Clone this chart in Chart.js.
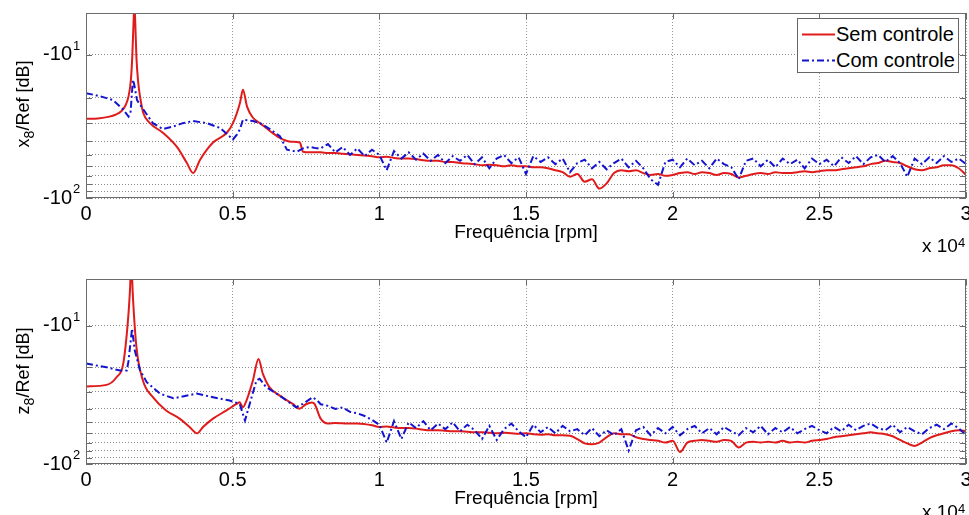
<!DOCTYPE html>
<html>
<head>
<meta charset="utf-8">
<script src="https://cdn.jsdelivr.net/npm/chart.js@4.4.1/dist/chart.umd.min.js"></script>
<style>
  body { margin:0; width:969px; height:515px; overflow:hidden; background:#fff; position:relative;
         font-family:"Liberation Sans", Arial, sans-serif; color:#000; }
  .plot { position:absolute; left:0; width:975px; }
  #topPlot { top:0; height:260px; }
  #botPlot { top:260px; height:262px; }
  .lbl { position:absolute; white-space:nowrap; }
  .ytitle { font-size:18px; transform:translate(-50%,-50%) rotate(-90deg); }
  .ytitle sub { font-size:14px; }
  .xtitle { font-size:19px; transform:translate(-50%,-50%); }
  .mult { font-size:19px; line-height:19px; }
  .mult sup { font-size:13px; position:relative; top:-3px; vertical-align:top; }
  #legend { position:absolute; left:797px; top:18px; width:160px; height:53px; border:1px solid #666; background:#fff; }
  .row { position:absolute; left:4px; height:24px; font-size:20px; line-height:24px; white-space:nowrap; }
  .row svg { position:absolute; left:0; top:11px; }
  .row span { position:absolute; left:34px; top:0; }
</style>
</head>
<body>
<div class="plot" id="topPlot"><canvas id="chartX"></canvas></div>
<div class="plot" id="botPlot"><canvas id="chartZ"></canvas></div>

<div class="lbl ytitle" style="left:25px; top:104px;">x<sub>8</sub>/Ref [dB]</div>
<div class="lbl ytitle" style="left:25px; top:371px;">z<sub>8</sub>/Ref [dB]</div>
<div class="lbl xtitle" style="left:526px; top:232px;">Frequência [rpm]</div>
<div class="lbl xtitle" style="left:526px; top:498px;">Frequência [rpm]</div>
<div class="lbl mult" style="left:922px; top:236px;">x 10<sup>4</sup></div>
<div class="lbl mult" style="left:922px; top:502px;">x 10<sup>4</sup></div>

<div id="legend">
  <div class="row" style="top:3px;">
    <svg width="33" height="3"><line x1="0" y1="1.5" x2="33" y2="1.5" stroke="#e01b1b" stroke-width="2"/></svg>
    <span>Sem controle</span>
  </div>
  <div class="row" style="top:29px;">
    <svg width="33" height="3"><line x1="0" y1="1.5" x2="33" y2="1.5" stroke="#1414d0" stroke-width="2" stroke-dasharray="7,3,2,3"/></svg>
    <span>Com controle</span>
  </div>
</div>

<script>
// eixo x (rpm) e rótulos
const xTickVals = [0, 5000, 10000, 15000, 20000, 25000, 30000];
const xTickLabels = ['0', '0.5', '1', '1.5', '2', '2.5', '3'];
// linhas de grade do eixo y (magnitude em dB, escala log invertida)
const yGridVals = [10, 20, 30, 40, 50, 60, 70, 80, 90, 100];
const yLabelVals = [10, 100];
const yLabelExp = ['1', '2'];

// parte baixa (picos), cada serie com suas frequencias
const x8SemLowF = [0, 400, 800, 1000, 1200, 1350, 1450, 1530, 1580, 1620, 1650, 1680, 1720, 1780, 1850, 1950, 2180, 2620, 3100, 3440, 3650, 3890, 4330, 4800, 5010, 5250, 5350, 5490, 5690, 5930, 6270, 6610, 7000, 7290, 7400, 7600, 7800];
const x8SemLowDb = [-28, -27.8, -27, -26.2, -24.8, -22.5, -19.5, -15, -10, -6, -4.5, -6, -10.5, -15.6, -20, -25.4, -30, -35, -44, -57, -67, -54, -41, -35, -30, -21.6, -17.5, -23, -27.5, -30, -34, -38, -40.5, -41, -47.5, -48, -48];
const x8ComLowF = [0, 500, 920, 1260, 1450, 1520, 1570, 1600, 1640, 1740, 1950, 2280, 2620, 2970, 3300, 3650, 4120, 4570, 5010, 5150, 5250, 5350, 5690, 5930, 6270, 6610, 6850, 7190, 7400, 7630, 7870];
const x8ComLowDb = [-18.5, -19.5, -20.7, -24, -27, -25, -18, -14.9, -16, -20.7, -24, -30, -33, -31.7, -30, -29, -30, -32.4, -39, -36, -33, -28.4, -29, -30, -33, -37, -46, -47.5, -45, -44, -45];
const z8SemLowF = [0, 700, 1040, 1270, 1430, 1500, 1530, 1570, 1600, 1720, 1940, 2280, 2730, 3190, 3530, 3790, 3990, 4330, 4790, 5130, 5240, 5350, 5470, 5690, 5880, 6030, 6250, 6590, 7050, 7270, 7500, 7700, 7790];
const z8SemLowDb = [-27.5, -26.8, -23.6, -18.8, -9.2, -5.5, -4, -4.5, -6.2, -14.3, -24.9, -32.9, -41, -47, -54, -60, -54, -47, -41, -36.8, -35.8, -38.9, -34.8, -24.9, -17.4, -22.3, -27.8, -31.9, -36.8, -39.9, -37, -36, -36.8];
const z8ComLowF = [0, 700, 1160, 1390, 1450, 1500, 1570, 1660, 1840, 2070, 2520, 2980, 3770, 4330, 4900, 5240, 5420, 5580, 5810, 5920, 6140, 6590, 7160, 7390, 7730, 7900];
const z8ComLowDb = [-18.8, -20, -21.1, -21.1, -18, -14.3, -10.5, -15, -21, -25.6, -31, -33.5, -31, -32.9, -34.8, -36.8, -48.5, -36.8, -24.9, -24.2, -27.8, -31.9, -38.9, -36.8, -32.9, -35];

// parte alta (ruido), grade comum de 8000 a 30000 rpm
const freqHi = [8000, 8250, 8500, 8750, 9000, 9250, 9500, 9750, 10000, 10250, 10500, 10750, 11000, 11250, 11500, 11750,
  12000, 12250, 12500, 12750, 13000, 13250, 13500, 13750, 14000, 14250, 14500, 14750, 15000, 15250, 15500, 15750,
  16000, 16250, 16500, 16750, 17000, 17250, 17500, 17750, 18000, 18250, 18500, 18750, 19000, 19250, 19500, 19750,
  20000, 20250, 20500, 20750, 21000, 21250, 21500, 21750, 22000, 22250, 22500, 22750, 23000, 23250, 23500, 23750,
  24000, 24250, 24500, 24750, 25000, 25250, 25500, 25750, 26000, 26250, 26500, 26750, 27000, 27250, 27500, 27750,
  28000, 28250, 28500, 28750, 29000, 29250, 29500, 29750, 30000];
const x8SemHiDb = [-48, -48.5, -48.5, -49, -49.5, -50, -50.5, -51, -52, -51.5, -52.5, -53, -53, -53.5, -54.5, -55,
  -55, -56, -56, -57, -57.5, -58, -59, -58.5, -59, -60, -59, -60, -60, -61, -61, -62,
  -64, -66, -71, -68, -77, -74, -86, -79, -67, -64, -65, -64, -67, -69, -68, -70,
  -69, -67, -66, -68, -66, -67, -69, -67, -68, -72, -70, -68, -67, -68, -66, -67,
  -67, -66, -65, -66, -65, -64, -64, -63, -62, -61, -60, -58, -57, -55, -56, -57,
  -60, -63, -64, -62, -61, -59, -59, -62, -69];
const x8ComHiDb = [-45, -42, -48, -44, -50, -45, -51, -46, -50, -64, -47, -53, -48, -54, -49, -55,
  -50, -57, -51, -55, -50, -58, -52, -62, -53, -50, -57, -52, -68, -51, -56, -52,
  -58, -53, -66, -57, -54, -62, -56, -63, -57, -53, -61, -55, -62, -74, -81, -56,
  -54, -61, -53, -59, -55, -62, -53, -58, -61, -74, -55, -53, -60, -54, -61, -53,
  -58, -54, -62, -53, -58, -54, -60, -52, -57, -51, -58, -52, -50, -56, -51, -57,
  -71, -53, -58, -52, -57, -51, -56, -53, -58];
const z8SemHiDb = [-47, -51, -50.5, -50.8, -51, -51, -51.5, -52.5, -54, -53.5, -54.5, -55, -55, -55.5, -56.5, -57,
  -57, -57.5, -58, -58, -58.5, -59, -59, -59.5, -60, -59.5, -60, -60.5, -60, -61, -61.5, -61,
  -62, -62, -62.5, -66, -71, -72, -70, -64, -60, -61, -61, -64, -66, -67, -68, -70,
  -68, -82, -70, -68, -67, -68, -69, -67, -68, -76, -70, -69, -70, -69, -70, -68,
  -70, -69, -70, -68, -67, -66, -64, -63, -62, -61, -60, -59, -60, -61, -63, -67,
  -71, -74, -70, -65, -62, -60, -58, -57, -58];
const z8ComHiDb = [-37, -38, -40, -39, -42, -43, -45, -48, -52, -70, -49, -66, -50, -55, -49, -57,
  -51, -56, -50, -58, -52, -57, -66, -53, -67, -56, -51, -58, -64, -52, -59, -54,
  -60, -53, -58, -56, -62, -55, -63, -57, -62, -56, -80, -57, -54, -62, -55, -60,
  -54, -62, -56, -53, -60, -55, -61, -54, -58, -62, -55, -59, -53, -61, -55, -59,
  -54, -60, -56, -53, -57, -60, -54, -58, -52, -57, -53, -51, -55, -57, -52, -59,
  -54, -58, -61, -55, -52, -56, -51, -55, -62];

const RED = '#e01b1b';
const BLUE = '#1414d0';
const FONT = '"Liberation Sans", Arial, sans-serif';

// magnitude positiva no eixo log invertido (topo = -5 dB, base = -100 dB)
function pts(freqs, dbs) {
    return freqs.map((f, i) => ({ x: f, y: -dbs[i] }));
}

const axesFrame = {
    id: 'axesFrame',
    afterDraw(chart) {
        const { ctx, chartArea: a, scales } = chart;
        ctx.save();
        ctx.strokeStyle = '#6b6b6b';
        ctx.lineWidth = 1;
        ctx.strokeRect(a.left + 0.5, a.top + 0.5, a.right - a.left - 1, a.bottom - a.top - 1);
        ctx.beginPath();
        scales.y.ticks.forEach(t => {
            const y = Math.round(scales.y.getPixelForValue(t.value)) + 0.5;
            ctx.moveTo(a.left, y); ctx.lineTo(a.left + 6, y);
            ctx.moveTo(a.right, y); ctx.lineTo(a.right - 6, y);
        });
        scales.x.ticks.forEach(t => {
            const x = Math.round(scales.x.getPixelForValue(t.value)) + 0.5;
            ctx.moveTo(x, a.bottom); ctx.lineTo(x, a.bottom - 6);
            ctx.moveTo(x, a.top); ctx.lineTo(x, a.top + 6);
        });
        ctx.stroke();
        // expoentes dos rotulos -10^n
        ctx.fillStyle = '#000';
        ctx.font = '13px ' + FONT;
        ctx.textAlign = 'left';
        ctx.textBaseline = 'alphabetic';
        yLabelVals.forEach((v, i) => {
            const y = scales.y.getPixelForValue(v);
            ctx.fillText(yLabelExp[i], a.left - 13, y - 5);
        });
        ctx.restore();
    }
};

function makePlot(canvasId, semF, semDb, comF, comDb, semHi, comHi, yMin, padTop, xAxisH) {
    const data = {
        datasets: [
            {
                label: 'Com controle',
                data: pts(comF.concat(freqHi), comDb.concat(comHi)),
                borderColor: BLUE,
                borderWidth: 2,
                borderDash: [7, 3, 2, 3],
                pointRadius: 0,
                tension: 0,
                order: 0
            },
            {
                label: 'Sem controle',
                data: pts(semF.concat(freqHi), semDb.concat(semHi)),
                borderColor: RED,
                borderWidth: 2,
                pointRadius: 0,
                cubicInterpolationMode: 'monotone',
                order: 1
            }
        ]
    };

    const config = {
        type: 'line',
        data: data,
        options: {
            responsive: true,
            maintainAspectRatio: false,
            animation: false,
            events: [],
            layout: { padding: { top: padTop, right: 9, bottom: 0, left: 0 } },
            scales: {
                x: {
                    type: 'linear', min: 0, max: 30000,
                    afterBuildTicks: s => { s.ticks = xTickVals.map(v => ({ value: v })); },
                    afterFit: s => { s.height = xAxisH; },
                    ticks: {
                        padding: 0, maxRotation: 0, autoSkip: false, color: '#000',
                        font: { size: 20, family: FONT },
                        callback: (v, i) => xTickLabels[i]
                    },
                    // marcas externas invisiveis: so afastam os rotulos do eixo
                    grid: { color: '#999', lineWidth: 1, drawTicks: true, tickLength: 4, tickColor: 'rgba(0,0,0,0)' },
                    border: { display: false, dash: [1, 2] }
                },
                y: {
                    type: 'logarithmic', reverse: true, min: yMin, max: 100,
                    afterBuildTicks: s => { s.ticks = yGridVals.map(v => ({ value: v })); },
                    afterFit: s => { s.width = 86; },
                    ticks: {
                        padding: 0, autoSkip: false, color: '#000',
                        font: { size: 20, family: FONT },
                        callback: v => (yLabelVals.includes(v) ? '-10' : '')
                    },
                    grid: { color: '#8a8a8a', lineWidth: 1, drawTicks: true, tickLength: 14, tickColor: 'rgba(0,0,0,0)' },
                    border: { display: false, dash: [1, 2] }
                }
            },
            plugins: {
                legend: { display: false },
                tooltip: { enabled: false }
            }
        },
        plugins: [axesFrame]
    };

    new Chart(document.getElementById(canvasId), config);
}

makePlot('chartX', x8SemLowF, x8SemLowDb, x8ComLowF, x8ComLowDb, x8SemHiDb, x8ComHiDb, 5.1, 13, 62);
makePlot('chartZ', z8SemLowF, z8SemLowDb, z8ComLowF, z8ComLowDb, z8SemHiDb, z8ComHiDb, 4.6, 19, 58);
</script>
</body>
</html>
